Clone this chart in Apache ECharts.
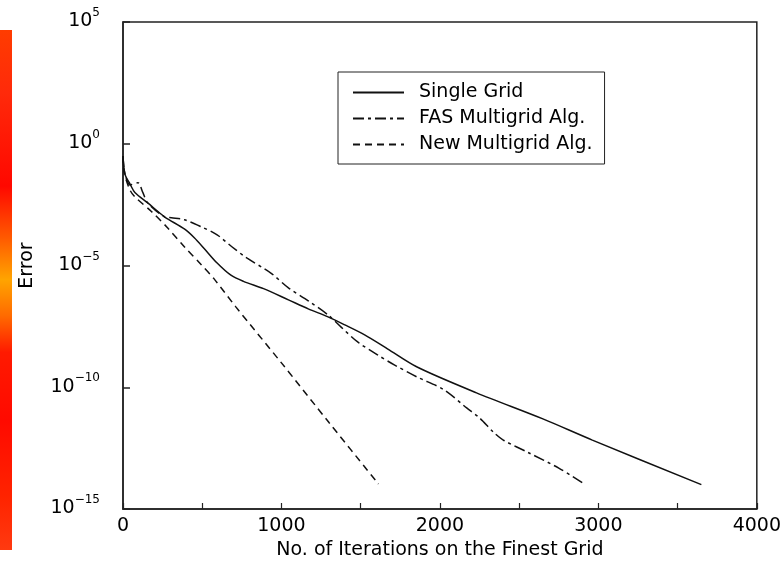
<!DOCTYPE html>
<html>
<head>
<meta charset="utf-8">
<script src="https://cdn.jsdelivr.net/npm/echarts@6/dist/echarts.min.js"></script>
<style>
html,body{margin:0;padding:0;background:#fff;}
#chart{width:784px;height:566px;}
</style>
</head>
<body>
<div id="chart"></div>
<script>
// Iteration counts and log10(error)
const singleIter = [0, 6, 15, 44, 75, 156, 262, 387, 450, 512, 594, 681, 760, 887, 1044, 1169, 1294, 1400, 1525, 1669, 1856, 2231, 2650, 2962, 3650];
const singleLogErr = [-0.5, -1.0, -1.3, -1.65, -2.0, -2.43, -3.0, -3.5, -3.86, -4.3, -4.9, -5.4, -5.65, -5.95, -6.41, -6.78, -7.11, -7.44, -7.85, -8.42, -9.17, -10.23, -11.3, -12.17, -14.0];

const fasIter = [0, 6, 15, 44, 94, 125, 156, 262, 306, 387, 494, 594, 687, 781, 931, 1044, 1169, 1294, 1375, 1481, 1606, 1712, 1856, 2025, 2169, 2250, 2337, 2400, 2563, 2750, 2900];
const fasLogErr = [-0.5, -1.0, -1.3, -1.69, -1.6, -2.0, -2.43, -3.0, -3.04, -3.12, -3.41, -3.74, -4.23, -4.69, -5.3, -5.92, -6.45, -7.03, -7.52, -8.14, -8.67, -9.08, -9.58, -10.1, -10.85, -11.26, -11.84, -12.17, -12.7, -13.32, -13.93];

const newIter = [0, 8, 44, 75, 181, 281, 387, 494, 575, 712, 1000, 1300, 1612];
const newLogErr = [-0.5, -1.2, -1.9, -2.18, -2.79, -3.45, -4.23, -4.97, -5.55, -6.7, -9.0, -11.45, -13.97];

const seriesNames = ['Single Grid', 'FAS Multigrid Alg.', 'New Multigrid Alg.'];
const xTicks = [0, 1000, 2000, 3000, 4000];
const yTickExponents = [-15, -10, -5, 0, 5];

function toPairs(iters, logs) {
  return iters.map((it, i) => [it, Math.pow(10, logs[i])]);
}

const FONT = 'DejaVu Sans';
const chart = echarts.init(document.getElementById('chart'), null, {renderer: 'canvas'});

const option = {
  backgroundColor: '#fff',
  animation: false,
  textStyle: {fontFamily: FONT, color: '#000'},
  graphic: [{
    type: 'rect',
    left: 0, top: 30,
    shape: {width: 12, height: 520},
    style: {
      fill: new echarts.graphic.LinearGradient(0, 0, 0, 1, [
        {offset: 0, color: '#ff3c00'},
        {offset: 0.12, color: '#ff2a0a'},
        {offset: 0.3, color: '#ff0800'},
        {offset: 0.4, color: '#ff5a00'},
        {offset: 0.48, color: '#ffa400'},
        {offset: 0.55, color: '#ff6a00'},
        {offset: 0.62, color: '#ff1a00'},
        {offset: 0.75, color: '#ff0a00'},
        {offset: 0.9, color: '#ff2400'},
        {offset: 1, color: '#ff3a10'}
      ])
    },
    z: -1
  }],
  grid: {
    left: 123, right: 21, top: 22, bottom: 57,
    show: true, borderColor: '#222', borderWidth: 1.5, backgroundColor: 'transparent'
  },
  legend: {
    show: true,
    data: seriesNames,
    orient: 'vertical',
    left: 338, top: 72,
    borderColor: '#222', borderWidth: 1,
    padding: [11, 12, 10, 14],
    itemWidth: 51, itemHeight: 14, itemGap: 7,
    itemStyle: {opacity: 0},
    textStyle: {fontFamily: FONT, fontSize: 19, lineHeight: 18, color: '#000', padding: [0, 0, 0, 10]}
  },
  xAxis: {
    type: 'value',
    min: xTicks[0], max: xTicks[xTicks.length - 1], interval: 1000,
    name: 'No. of Iterations on the Finest Grid',
    nameLocation: 'middle', nameGap: 32,
    nameTextStyle: {fontFamily: FONT, fontSize: 19, color: '#000'},
    axisLine: {lineStyle: {color: '#222', width: 1.5}},
    axisTick: {inside: true, length: 6, lineStyle: {color: '#222', width: 1.2}},
    minorTick: {show: true, splitNumber: 2, length: 6, lineStyle: {color: '#222', width: 1.2}},
    splitLine: {show: false},
    axisLabel: {fontFamily: FONT, fontSize: 19, color: '#000', margin: 8, formatter: function (v) { return String(v); }}
  },
  yAxis: {
    type: 'log', logBase: 10,
    min: Math.pow(10, yTickExponents[0]), max: Math.pow(10, yTickExponents[yTickExponents.length - 1]),
    interval: 5,
    name: 'Error',
    nameLocation: 'middle', nameGap: 86, nameRotate: 90,
    nameTextStyle: {fontFamily: FONT, fontSize: 19, color: '#000'},
    axisLine: {lineStyle: {color: '#222', width: 1.5}},
    axisTick: {show: true, inside: true, length: 7, lineStyle: {color: '#222', width: 1.5}},
    splitLine: {show: false},
    minorTick: {show: false},
    axisLabel: {
      margin: 23,
      padding: [0, 0, 6, 0],
      formatter: function (v) {
        const e = Math.round(Math.log10(v));
        const s = e < 0 ? '\u2212' + Math.abs(e) : String(e);
        return '{b|10}{s|' + s + '}';
      },
      rich: {
        b: {fontFamily: FONT, fontSize: 19, lineHeight: 24, verticalAlign: 'bottom', color: '#000'},
        s: {fontFamily: FONT, fontSize: 12, lineHeight: 12, verticalAlign: 'top', color: '#000'}
      }
    }
  },
  series: [
    {
      name: seriesNames[0], type: 'line', data: toPairs(singleIter, singleLogErr),
      showSymbol: false, symbol: 'none', smooth: 0.3,
      lineStyle: {color: '#111', width: 1.5, type: 'solid'},
      itemStyle: {color: '#111'}
    },
    {
      name: seriesNames[1], type: 'line', data: toPairs(fasIter, fasLogErr),
      showSymbol: false, symbol: 'none', smooth: 0.3,
      lineStyle: {color: '#111', width: 1.5, type: [11, 4, 3, 4]},
      itemStyle: {color: '#111'}
    },
    {
      name: seriesNames[2], type: 'line', data: toPairs(newIter, newLogErr),
      showSymbol: false, symbol: 'none', smooth: 0.3,
      lineStyle: {color: '#111', width: 1.5, type: [7, 5]},
      itemStyle: {color: '#111'}
    }
  ]
};
chart.setOption(option);
</script>
</body>
</html>
